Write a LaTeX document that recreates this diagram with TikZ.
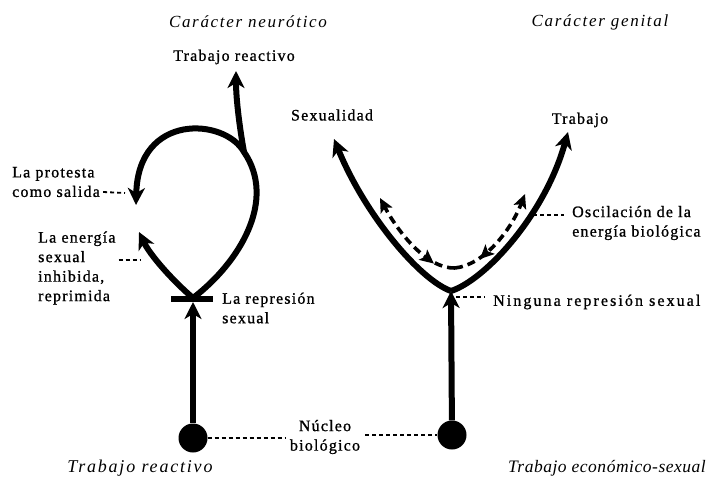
\documentclass[tikz,border=0pt]{standalone}
\usepackage{fontspec}
\setmainfont{Liberation Serif}
\newfontfamily\labfont[LetterSpace=7.5,FakeBold=1]{Liberation Serif}
\newfontfamily\labwidefont[LetterSpace=13,FakeBold=1]{Liberation Serif}
\newfontfamily\titfont[LetterSpace=10]{Liberation Serif}
\newfontfamily\botfont[LetterSpace=3]{Liberation Serif}
\newfontfamily\botwidefont[LetterSpace=10]{Liberation Serif}
\usetikzlibrary{arrows.meta,decorations.markings}
\begin{document}
\begin{tikzpicture}[x=1pt,y=-1pt,
  thk/.style={line width=6pt},
  tip/.style={-{Stealth[length=17pt,width=17pt,inset=5pt]}},
  tipsm/.style={-{Stealth[length=14pt,width=13pt,inset=3pt]}},
  dsh/.style={line width=3.6pt, dash pattern=on 8pt off 5pt},
  ldr/.style={line width=1.8pt, dash pattern=on 4pt off 3pt},
  midrev/.style={postaction={decorate}, decoration={markings,
      mark=at position #1 with {\arrow{Stealth[length=14pt,width=13pt,inset=3pt,reversed]}}}},
  lab/.style={font={\labfont\fontsize{16}{19.5}\selectfont}, align=left, inner sep=0pt},
  labw/.style={font={\labwidefont\fontsize{16}{19.5}\selectfont}, align=left, inner sep=0pt},
  ttl/.style={font={\titfont\itshape\fontsize{17}{20}\selectfont}, inner sep=0pt},
  bot/.style={font={\botfont\itshape\fontsize{17.5}{21}\selectfont}, inner sep=0pt},
  botw/.style={font={\botwidefont\itshape\fontsize{18}{21}\selectfont}, inner sep=0pt},
  dot/.style={circle, fill, minimum size=29pt, inner sep=0pt}]
\useasboundingbox (0,0) rectangle (708,481);

% titles
\node[ttl] (t1) at (248,22) {Carácter neurótico};
\node[ttl] (t2) at (600,22) {Carácter genital};

% left labels
\node[lab] (trl) at (234,57) {Trabajo reactivo};
\node[lab, anchor=west] (prot) at (12,182) {La protesta\\como salida};
\node[lab, anchor=west] (ener) at (38,268) {La energía\\sexual\\inhibida,\\reprimida};
\node[lab, anchor=west] (rep) at (222,308) {La represión\\sexual};
\node[lab, align=center] (nuc) at (325,437) {Núcleo\\biológico};
\node[botw] (bl) at (140,468) {Trabajo reactivo};

% right labels
\node[lab] (sex) at (332,115) {Sexualidad};
\node[lab] (trab) at (580,120) {Trabajo};
\node[lab, anchor=west] (osc) at (572,223) {Oscilación de la\\energía biológica};
\node[labw, anchor=west] (ning) at (493,302) {Ninguna represión sexual};
\node[bot] (br) at (607,468) {Trabajo económico-sexual};

% dots
\node[dot] (dL) at (193,438) {};
\node[dot] (dR) at (452,435) {};

% left figure
\coordinate (jL) at (193,298);
\coordinate (aL) at (193,302);
\coordinate (bl1) at (171,299);
\coordinate (bl2) at (213,299);
\coordinate (kL) at (244,152);
\coordinate (up) at (236,71);
\coordinate (pr) at (136,205);
\coordinate (en) at (139,232);

\draw[thk, tip] (dL) -- (aL);
\draw[thk] (bl1) -- (bl2);
\draw[thk, tip] (jL) .. controls (240,262) and (277,200) .. (kL)
   .. controls (225,118) and (138,112) .. (pr);
\draw[thk, tip] (kL) .. controls (240,130) and (236,100) .. (up);
\draw[thk, tip] (jL) .. controls (172,280) and (150,255) .. (en);

% right figure
\coordinate (bR) at (451,291);
\coordinate (sL) at (334,139);
\coordinate (sR) at (568,132);
\draw[thk, tip] (bR) .. controls (420,280) and (365,215) .. (sL);
\draw[thk, tip] (bR) .. controls (485,280) and (545,215) .. (sR);
\draw[thk, tip] (dR) -- (bR);

\coordinate (db) at (455,268);
\coordinate (dl) at (380,198);
\coordinate (dr) at (525,194);
\draw[dsh, tipsm, midrev=0.33] (db) .. controls (427,269) and (398,232) .. (dl);
\draw[dsh, tipsm, midrev=0.38] (db) .. controls (484,265) and (511,230) .. (dr);

% leaders
\coordinate (lp) at (125,193);
\coordinate (le) at (141,260);
\coordinate (nb) at (456,297);
\coordinate (oc) at (533,215);
\draw[ldr] ([xshift=3pt,yshift=-10pt]prot.east) -- (lp);
\draw[ldr] ([xshift=3pt,yshift=8pt]ener.east) -- (le);
\draw[ldr] (dL.east) -- ([xshift=-5pt]nuc.west |- dL.east);
\draw[ldr] ([xshift=5pt]nuc.east |- dR.west) -- (dR.west);
\draw[ldr] (nb) -- ([xshift=-8pt]ning.west |- nb);
\draw[ldr] (oc) -- ([xshift=-8pt]osc.west |- oc);
\end{tikzpicture}
\end{document}
